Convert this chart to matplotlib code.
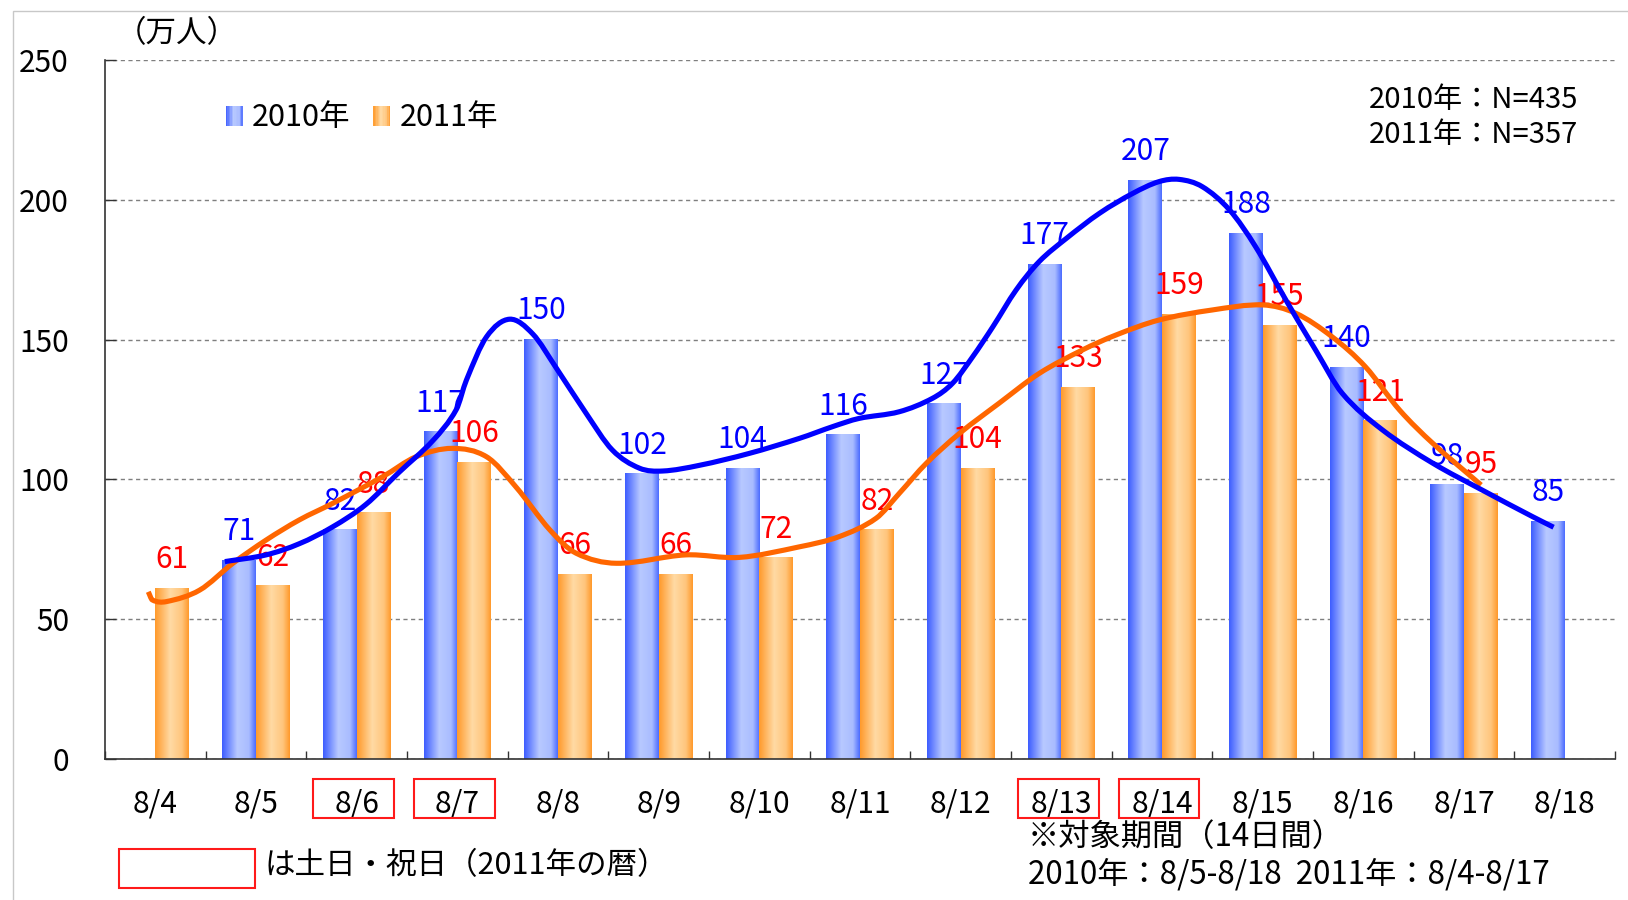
import numpy as np
import matplotlib
matplotlib.use("Agg")
import matplotlib.pyplot as plt
from matplotlib.colors import LinearSegmentedColormap
from matplotlib.patches import Rectangle, PathPatch, Patch
from matplotlib.path import Path
from matplotlib.legend_handler import HandlerBase

plt.rcParams['font.family'] = ['Noto Sans CJK JP', 'DejaVu Sans']

# data
dates = ["8/4", "8/5", "8/6", "8/7", "8/8", "8/9", "8/10", "8/11",
         "8/12", "8/13", "8/14", "8/15", "8/16", "8/17", "8/18"]
v2010 = [None, 71, 82, 117, 150, 102, 104, 116, 127, 177, 207, 188, 140, 98, 85]
v2011 = [61, 62, 88, 106, 66, 66, 72, 82, 104, 133, 159, 155, 121, 95, None]
holidays = ["8/6", "8/7", "8/13", "8/14"]

# hand-drawn smooth trend curves (x in category units, value in 万人)
curve2010_x = [0.69, 1.10, 1.43, 1.76, 2.09, 2.42, 2.76, 2.99, 3.09, 3.29, 3.52,
               3.75, 3.98, 4.28, 4.54, 4.81, 5.04, 5.40, 5.90, 6.40, 6.73, 6.99,
               7.39, 7.72, 7.92, 8.12, 8.32, 8.55, 8.78, 9.05, 9.38, 9.71, 9.97,
               10.17, 10.40, 10.67, 10.93, 11.23, 11.53, 11.79, 12.19, 12.69,
               13.18, 13.68, 13.89]
curve2010_y = [70.6, 73, 77, 83, 91, 102.5, 114, 125, 135.5, 151, 157.3,
               152, 140, 123.6, 110.5, 104, 103, 105, 109.3, 114.7, 118.9, 121.8,
               124.2, 129.0, 134.4, 143.9, 154.6, 167.7, 177.9, 186.2, 195.2, 202.3, 206.5,
               207.3, 204.7, 196.4, 183.2, 164.2, 146, 130.8, 117.7, 105.8,
               96.2, 86.7, 82.9]
curve2011_x = [-0.07, -0.03, 0.11, 0.44, 0.77, 1.10, 1.43, 1.76, 2.26, 2.59, 2.95,
               3.29, 3.58, 3.92, 4.18, 4.58, 5.27, 5.80, 6.40, 6.79, 7.16, 7.39,
               7.66, 7.99, 8.38, 8.78, 9.21, 9.54, 9.97, 10.50, 11.00, 11.33, 11.69,
               12.02, 12.36, 12.69, 13.17]
curve2011_y = [59.8, 56.9, 56.3, 60.4, 70, 78.3, 85.5, 91.4, 101, 108.1, 111.1,
               108.1, 97.4, 81.9, 73.6, 70, 73, 72.1, 75.9, 79.5, 86.1, 95.0,
               105.8, 116.5, 127.2, 137.9, 146.3, 151.6, 157.0, 160.6, 162.4, 159.4, 151,
               140.3, 124.8, 112.9, 98]

yticks = [0, 50, 100, 150, 200, 250]

W, H = 1628, 900
fig = plt.figure(figsize=(W / 100, H / 100), dpi=100)
ax = fig.add_axes([105 / W, 1 - 759 / H, 1510 / W, 699 / H])

blue_cmap = LinearSegmentedColormap.from_list(
    "b", [(0, "#3e5eff"), (0.45, "#b8c9ff"), (0.8, "#a9bcff"), (1, "#4d6dff")])
orange_cmap = LinearSegmentedColormap.from_list(
    "o", [(0, "#ff9a2c"), (0.45, "#ffdaa4"), (0.8, "#ffc57c"), (1, "#ff9a2c")])

x = np.arange(len(dates))
w = 0.333
b10 = np.array([np.nan if v is None else v for v in v2010], dtype=float)
b11 = np.array([np.nan if v is None else v for v in v2011], dtype=float)

grad = np.linspace(0, 1, 64)[None, :]
for vals, offs, cmap in [(b10, -w / 2, blue_cmap), (b11, w / 2, orange_cmap)]:
    bars = ax.bar(x + offs, vals, w, color="none", edgecolor="none")
    for r in bars:
        if np.isnan(r.get_height()):
            continue
        x0, y0 = r.get_x(), r.get_y()
        ax.imshow(grad, cmap=cmap, aspect="auto", zorder=2,
                  extent=(x0, x0 + r.get_width(), y0, y0 + r.get_height()))

# value labels
for i in range(len(dates)):
    if not np.isnan(b10[i]):
        ax.annotate(f"{int(b10[i])}", (x[i] - w / 2, b10[i]), xytext=(0, 14.5),
                    textcoords="offset points", ha="center", va="baseline",
                    color="#0000ff", fontsize=21.5, zorder=3)
    if not np.isnan(b11[i]):
        ax.annotate(f"{int(b11[i])}", (x[i] + w / 2, b11[i]), xytext=(0, 14.5),
                    textcoords="offset points", ha="center", va="baseline",
                    color="#ff0000", fontsize=21.5, zorder=3)


def smooth_path(xs, ys):
    # cubic Hermite through the points, slopes from neighbours (x increasing)
    xs = np.asarray(xs, float)
    ys = np.asarray(ys, float)
    n = len(xs)
    m = np.empty(n)
    m[0] = (ys[1] - ys[0]) / (xs[1] - xs[0])
    m[-1] = (ys[-1] - ys[-2]) / (xs[-1] - xs[-2])
    m[1:-1] = (ys[2:] - ys[:-2]) / (xs[2:] - xs[:-2])
    verts = [(xs[0], ys[0])]
    codes = [Path.MOVETO]
    for i in range(n - 1):
        dx = (xs[i + 1] - xs[i]) / 3
        verts += [(xs[i] + dx, ys[i] + m[i] * dx),
                  (xs[i + 1] - dx, ys[i + 1] - m[i + 1] * dx),
                  (xs[i + 1], ys[i + 1])]
        codes += [Path.CURVE4] * 3
    return Path(verts, codes)


ax.add_patch(PathPatch(smooth_path(curve2011_x, curve2011_y), fill=False,
                       edgecolor="#ff6600", lw=3.7, capstyle="butt", zorder=4))
ax.add_patch(PathPatch(smooth_path(curve2010_x, curve2010_y), fill=False,
                       edgecolor="#0000ff", lw=3.7, capstyle="butt", zorder=5))

ax.set_xlim(-0.5, 14.5)
ax.set_ylim(0, 250)
ax.set_yticks(yticks)
ax.set_xticks(x)
ax.set_xticklabels(dates)
ax.set_xticks(np.arange(len(dates) + 1) - 0.5, minor=True)
ax.tick_params(axis="x", which="major", length=0, pad=21, labelsize=21.5)
ax.tick_params(axis="x", which="minor", direction="in", length=6, width=1, color="#333333")
ax.tick_params(axis="y", direction="in", length=8, width=1, color="#333333", pad=26, labelsize=21.5)
ax.grid(axis="y", linestyle=(0, (3, 2.5)), color="#7f7f7f", lw=1)
ax.set_axisbelow(True)
for s in ["top", "right"]:
    ax.spines[s].set_visible(False)
for s in ["left", "bottom"]:
    ax.spines[s].set_color("#333333")
    ax.spines[s].set_linewidth(1.2)

# red boxes around weekend / holiday labels
for d in holidays:
    i = dates.index(d)
    ax.add_patch(Rectangle((i - 0.43, -0.085), 0.8, 0.056, transform=ax.get_xaxis_transform(),
                           fill=False, edgecolor="#ff1a1a", lw=1.5, clip_on=False))


class GradHandler(HandlerBase):
    def __init__(self, cmap):
        super().__init__()
        self.cmap = cmap

    def create_artists(self, legend, orig, xd, yd, width, height, fontsize, trans):
        n = 12
        return [Rectangle((xd + width * k / n, yd), width / n * 1.05, height,
                          facecolor=self.cmap((k + 0.5) / n), edgecolor="none", transform=trans)
                for k in range(n)]


h10, h11 = Patch(), Patch()
fig.legend([h10, h11], ["2010年", "2011年"], ncol=2, frameon=False,
           loc="center left", bbox_to_anchor=(226 / W, 1 - 117 / H),
           handler_map={h10: GradHandler(blue_cmap), h11: GradHandler(orange_cmap)},
           handlelength=0.55, handleheight=0.65, handletextpad=0.3,
           columnspacing=0.75, borderpad=0, borderaxespad=0, fontsize=22)

fig.text(116 / W, 1 - 34 / H, "（万人）", fontsize=22, va="center", ha="left")
fig.text(1578 / W, 1 - 100 / H, "2010年：N=435", fontsize=21, va="center", ha="right")
fig.text(1578 / W, 1 - 135 / H, "2011年：N=357", fontsize=21, va="center", ha="right")
fig.text(1028 / W, 1 - 837 / H, "※対象期間（14日間）", fontsize=22.5, va="center", ha="left")
fig.text(1028 / W, 1 - 874 / H, "2010年：8/5-8/18  2011年：8/4-8/17", fontsize=22.5,
         va="center", ha="left")
fig.text(264 / W, 1 - 866 / H, "は土日・祝日（2011年の暦）", fontsize=22, va="center", ha="left")
fig.add_artist(Rectangle((119 / W, 1 - 888 / H), 136 / W, 39 / H, transform=fig.transFigure,
                         fill=False, edgecolor="#ff1a1a", lw=1.5))

# light frame around the chart
fig.add_artist(Rectangle((13 / W, -1), 2, 1 + (1 - 11 / H), transform=fig.transFigure,
                         fill=False, edgecolor="#c8c8c8", lw=1))

fig.savefig("out.png", dpi=100)
